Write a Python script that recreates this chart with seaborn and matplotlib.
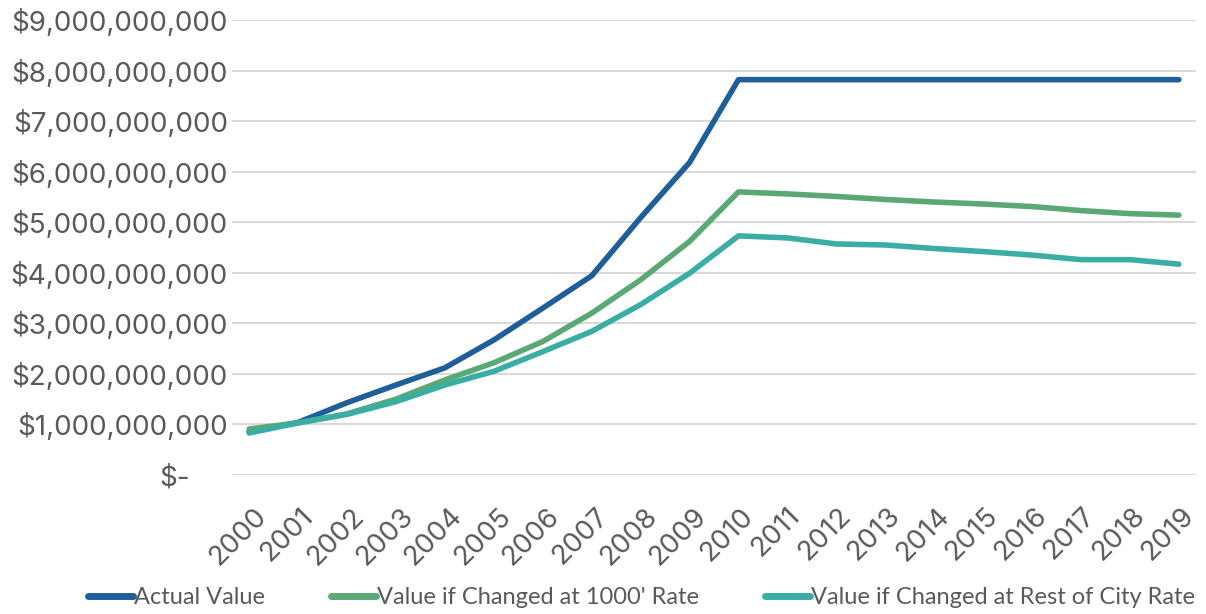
import pandas as pd
import matplotlib.pyplot as plt
import matplotlib.transforms as mtransforms
import seaborn as sns
from matplotlib.ticker import FuncFormatter

# Data (in $ billions)
years = list(range(2000, 2020))
actual = [0.86, 1.04, 1.43, 1.78, 2.12, 2.67, 3.30, 3.94, 5.09, 6.18,
          7.82, 7.82, 7.82, 7.82, 7.82, 7.82, 7.82, 7.82, 7.82, 7.82]
rate_1000 = [0.91, 1.03, 1.21, 1.50, 1.88, 2.22, 2.64, 3.20, 3.86, 4.62,
             5.60, 5.56, 5.51, 5.45, 5.40, 5.36, 5.31, 5.23, 5.17, 5.14]
rate_city = [0.83, 1.03, 1.20, 1.45, 1.78, 2.05, 2.44, 2.84, 3.37, 3.99,
             4.73, 4.69, 4.57, 4.55, 4.48, 4.42, 4.35, 4.26, 4.26, 4.17]
series_names = ["Actual Value", "Value if Changed at 1000' Rate",
                "Value if Changed at Rest of City Rate"]
colors = ["#1F5F99", "#5AA874", "#3AAEA5"]

df = pd.DataFrame({
    "Year": years * 3,
    "Value": [v * 1e9 for v in actual + rate_1000 + rate_city],
    "Series": [s for s in series_names for _ in years],
})

sns.set_style("white")
plt.rcParams["font.family"] = ["Inter", "DejaVu Sans"]
text_color = "#595959"

fig = plt.figure(figsize=(12.06, 6.14), dpi=100)
ax = fig.add_axes([232 / 1206, 1 - 475 / 614, (1196 - 232) / 1206, 455 / 614])

sns.lineplot(data=df, x="Year", y="Value", hue="Series", palette=colors,
             linewidth=4, ax=ax, legend=False)

ax.set_ylim(0, 9e9)
ax.set_yticks([i * 1e9 for i in range(10)])
ax.yaxis.set_major_formatter(FuncFormatter(
    lambda v, p: "$-" if v == 0 else "${:,.0f}".format(v)))
ax.set_xlim(2000 - 0.35, 2019 + 0.35)
ax.set_xticks(years)
ax.set_xticklabels([str(y) for y in years], rotation=45, ha="center")
ax.tick_params(axis="y", labelsize=20, colors=text_color, length=0, pad=3)
ax.tick_params(axis="x", labelsize=20, colors=text_color, length=0, pad=20)
shift = mtransforms.ScaledTranslation(-11 / 100, 0, fig.dpi_scale_trans)
for lbl in ax.get_xticklabels():
    lbl.set_transform(lbl.get_transform() + shift)
# accounting-style zero label sits further left
zero_lbl = ax.yaxis.get_major_ticks()[0].label1
zero_lbl.set_transform(zero_lbl.get_transform() +
                       mtransforms.ScaledTranslation(-38 / 100, 0, fig.dpi_scale_trans))
ax.grid(axis="y", color="#D9D9D9", linewidth=1.5)
ax.set_axisbelow(True)
for s in ax.spines.values():
    s.set_visible(False)
ax.set_xlabel("")
ax.set_ylabel("")

handles = [plt.Line2D([], [], color=c, linewidth=5) for c in colors]
fig.legend(handles, series_names, loc="center",
           bbox_to_anchor=(0.532, 1 - 598 / 614), bbox_transform=fig.transFigure,
           ncol=3, frameon=False, labelcolor=text_color,
           prop={"family": ["Lato", "DejaVu Sans"], "size": 17},
           handlelength=1.9, handletextpad=0.05, columnspacing=2.8)

fig.savefig("out.png", dpi=100)
